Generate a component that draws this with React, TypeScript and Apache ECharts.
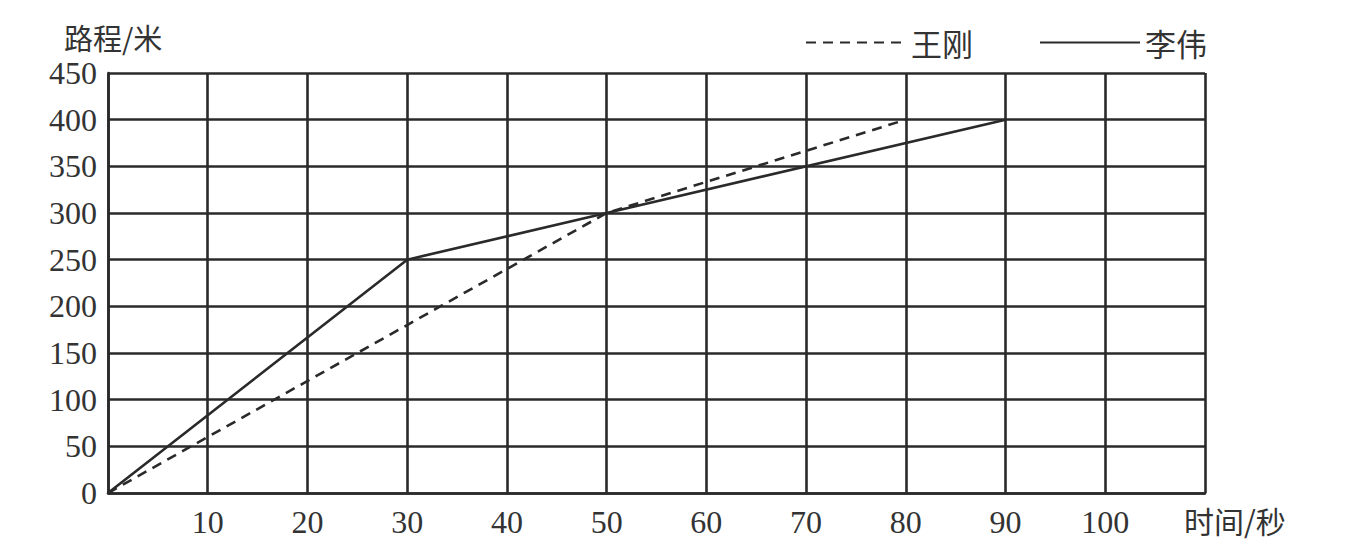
import React, { useEffect, useRef } from "react";
import * as echarts from "echarts";

const wangGangX = [0, 50, 80];
const wangGangY = [0, 300, 400];
const liWeiX = [0, 30, 50, 90];
const liWeiY = [0, 250, 300, 400];
const seriesNames = ["王刚", "李伟"];
const xTitle = "时间/秒";
const yTitle = "路程/米";

const INK = "#2a2a2a";
const SERIF = "'Liberation Serif', 'Times New Roman', serif";
const CJK = "'Noto Sans CJK SC', sans-serif";

export default function App() {
  const ref = useRef<HTMLDivElement>(null);
  useEffect(() => {
    if (!ref.current) return;
    const chart = echarts.init(ref.current, undefined, { renderer: "svg" });
    chart.setOption({
      animation: false,
      backgroundColor: "#ffffff",
      grid: { left: 108, right: 154, top: 73, bottom: 54 },
      legend: {
        left: 800,
        top: 22,
        itemWidth: 100,
        itemHeight: 14,
        itemGap: 66,
        itemStyle: { opacity: 0 },
        textStyle: { fontFamily: CJK, fontSize: 31, color: "#333", padding: [0, 0, 0, 0] },
        data: seriesNames,
      },
      xAxis: {
        type: "value",
        min: 0,
        max: 110,
        interval: 10,
        axisLine: { show: true, lineStyle: { color: INK, width: 2.6 } },
        axisTick: { show: false },
        splitLine: { show: true, lineStyle: { color: INK, width: 2.6 } },
        axisLabel: {
          margin: 13,
          fontFamily: SERIF,
          fontSize: 32,
          color: "#333",
          formatter: (v: number) => (v === 0 || v === 110 ? "" : String(v)),
        },
      },
      yAxis: {
        type: "value",
        min: 0,
        max: 450,
        interval: 50,
        axisLine: { show: true, lineStyle: { color: INK, width: 2.6 } },
        axisTick: { show: false },
        splitLine: { show: true, lineStyle: { color: INK, width: 2.6 } },
        axisLabel: { margin: 11, fontFamily: SERIF, fontSize: 32, color: "#333" },
      },
      graphic: [
        {
          type: "text",
          left: 64,
          top: 22,
          style: { text: yTitle, font: `29px ${CJK}`, fill: "#333" },
        },
        {
          type: "text",
          left: 1184,
          top: 505,
          style: { text: xTitle, font: `30px ${CJK}`, fill: "#333" },
        },
      ],
      series: [
        {
          name: seriesNames[0],
          type: "line",
          symbol: "none",
          data: wangGangX.map((x, i) => [x, wangGangY[i]]),
          lineStyle: { color: INK, width: 2.6, type: [10, 7] },
          itemStyle: { color: INK },
        },
        {
          name: seriesNames[1],
          type: "line",
          symbol: "none",
          data: liWeiX.map((x, i) => [x, liWeiY[i]]),
          lineStyle: { color: INK, width: 2.6 },
          itemStyle: { color: INK },
        },
      ],
    });
    return () => chart.dispose();
  }, []);
  return (
    <div
      ref={ref}
      style={{ position: "absolute", left: 0, top: 0, width: 1359, height: 547, background: "#fff" }}
    />
  );
}
